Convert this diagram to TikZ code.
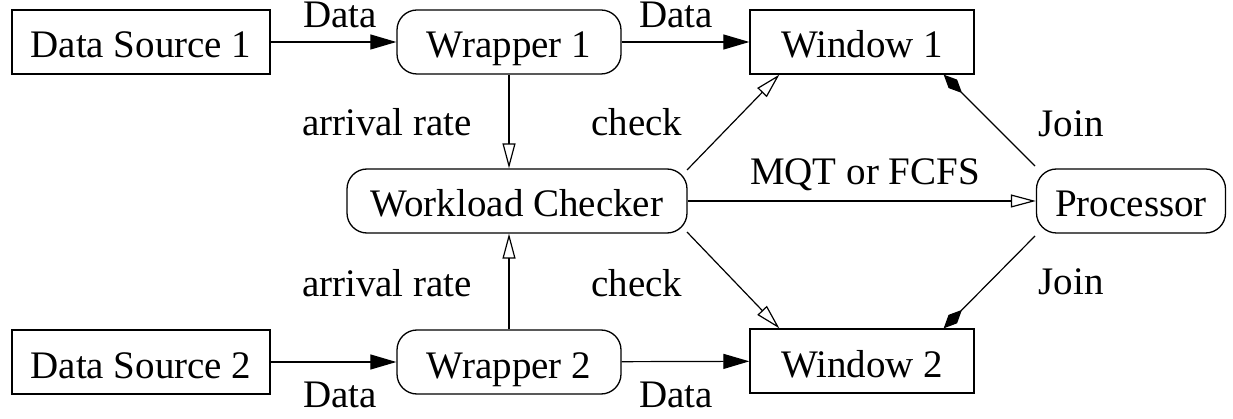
\documentclass[tikz,border=0pt]{standalone}
\usepackage{fontspec}
\setmainfont{Liberation Serif}
\usetikzlibrary{arrows.meta}
\begin{document}
\begin{tikzpicture}[x=1pt,y=-1pt,
  every node/.style={font=\fontsize{39}{42}\selectfont, inner sep=0pt},
  boxbase/.style={draw, line width=1.3pt, minimum height=64pt, text height=34pt, text depth=2pt},
  sqbox/.style={boxbase},
  rbox/.style={boxbase, rounded corners=20pt},
  conn/.style={line width=1.2pt},
  dataarr/.style={conn, -{Triangle[length=26pt,width=15pt]}},
  openarr/.style={conn, -{Triangle[open,length=25pt,width=13pt,line width=1.2pt]}},
  joinarr/.style={conn, -{Diamond[length=26pt,width=12pt]}},
  lbl/.style={anchor=base, text height=26pt, text depth=0pt}
]
\useasboundingbox (0,0) rectangle (1233,419);
\node[sqbox, minimum width=258pt] (ds1) at (141,42) {Data Source 1};
\node[rbox, minimum width=224pt] (w1) at (509,42) {Wrapper 1};
\node[sqbox, minimum width=224pt] (win1) at (862,42) {Window 1};
\node[rbox, minimum width=340pt] (wc) at (517,201) {Workload Checker};
\node[rbox, minimum width=189pt] (proc) at (1131,201) {Processor};
\node[sqbox, minimum width=258pt] (ds2) at (141,362) {Data Source 2};
\node[rbox, minimum width=224pt] (w2) at (509,362) {Wrapper 2};
\node[sqbox, minimum width=224pt] (win2) at (862,361) {Window 2};

\draw[dataarr] (ds1) -- (w1);
\draw[dataarr] (w1) -- (win1);
\draw[dataarr] (ds2) -- (w2);
\draw[dataarr] (w2) -- (win2);
\draw[openarr] (w1.south) -- (wc.north -| w1.south);
\draw[openarr] (w2.north) -- (wc.south -| w2.north);
\coordinate (c1) at (687,170);
\coordinate (c2) at (687,232);
\draw[openarr] (c1) -- ([xshift=30pt]win1.south west);
\draw[openarr] (c2) -- ([xshift=30pt]win2.north west);
\draw[openarr] (wc.east) -- (proc.west |- wc.east);
\coordinate (p1) at (1035,166);
\coordinate (p2) at (1035,236);
\draw[joinarr] (p1) -- ([xshift=-31pt]win1.south east);
\draw[joinarr] (p2) -- ([xshift=-31pt]win2.north east);

\node[lbl] (l1) at (340,28) {Data};
\node[lbl] (l2) at (676,28) {Data};
\node[lbl] (l3) at (340,407) {Data};
\node[lbl] (l4) at (676,407) {Data};
\node[lbl] (l5) at (387,136) {arrival rate};
\node[lbl] (l6) at (387,297) {arrival rate};
\node[lbl] (l7) at (637,136) {check};
\node[lbl] (l8) at (637,297) {check};
\node[lbl] (l9) at (1071,137) {Join};
\node[lbl] (l10) at (1071,295) {Join};
\node[lbl] (l11) at (865,185) {MQT or FCFS};
\end{tikzpicture}
\end{document}
